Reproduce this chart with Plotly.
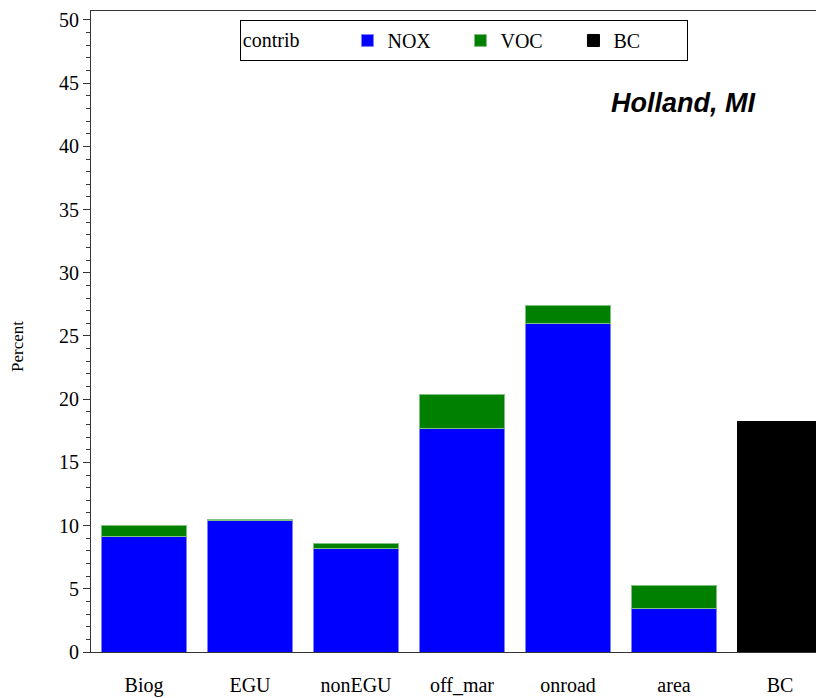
import plotly.graph_objects as go

# Source contributions (percent)
sources = ['Biog', 'EGU', 'nonEGU', 'off_mar', 'onroad', 'area', 'BC']
nox = [9.15, 10.4, 8.2, 17.7, 26.0, 3.45, None]
voc = [0.85, 0.1, 0.4, 2.7, 1.4, 1.8, None]
bc = [None, None, None, None, None, None, 18.2]

serif = 'Liberation Serif'

fig = go.Figure()
for name, vals, col, edge in [('NOX', nox, '#0000ff', '#8080ff'),
                              ('VOC', voc, '#008000', '#80c080'),
                              ('BC', bc, '#000000', '#000000')]:
    fig.add_trace(go.Bar(
        x=sources, y=vals, name=name,
        marker=dict(color=col, line=dict(color=edge, width=1)),
        width=0.81,
    ))

# page has an 8px body margin, so margins are offset to line up with the reference
fig.update_layout(
    barmode='stack',
    width=824, height=698,
    margin=dict(l=83, r=8, t=1, b=54),
    plot_bgcolor='white', paper_bgcolor='white',
    font=dict(family=serif, size=20, color='black'),
    legend=dict(
        orientation='h', x=0.203, y=0.986, xanchor='left', yanchor='top',
        traceorder='normal',
        title=dict(text='contrib' + '&nbsp;' * 8, font=dict(family=serif, size=20), side='left'),
        bordercolor='black', borderwidth=1,
        entrywidth=68, font=dict(family=serif, size=20),
    ),
    showlegend=True,
)
fig.update_xaxes(
    range=[-0.5, 6.415], showline=True, linecolor='#333333', linewidth=1,
    mirror=True, ticks='', tickfont=dict(family=serif, size=20),
    ticklabelstandoff=15,
)
fig.update_yaxes(
    range=[0, 50.71], showline=True, linecolor='#333333', linewidth=1,
    showgrid=False, zeroline=False,
    tickvals=[0, 5, 10, 15, 20, 25, 30, 35, 40, 45, 50],
    ticks='outside', ticklen=7, tickcolor='#333333',
    minor=dict(dtick=1, ticks='outside', ticklen=4, tickcolor='#333333', showgrid=False),
    tickfont=dict(family=serif, size=20),
    ticklabeloverflow='allow',
)
fig.add_annotation(
    text='Percent', xref='paper', yref='paper', x=-0.1, y=0.477,
    textangle=-90, showarrow=False, xanchor='center', yanchor='middle',
    font=dict(family=serif, size=17),
)
fig.add_annotation(
    text='<b><i>Holland, MI</i></b>', xref='paper', yref='paper',
    x=0.808, y=0.857, showarrow=False, xanchor='center', yanchor='middle',
    font=dict(family='Liberation Sans', size=27, color='black'),
)

fig.write_html('out.html')
